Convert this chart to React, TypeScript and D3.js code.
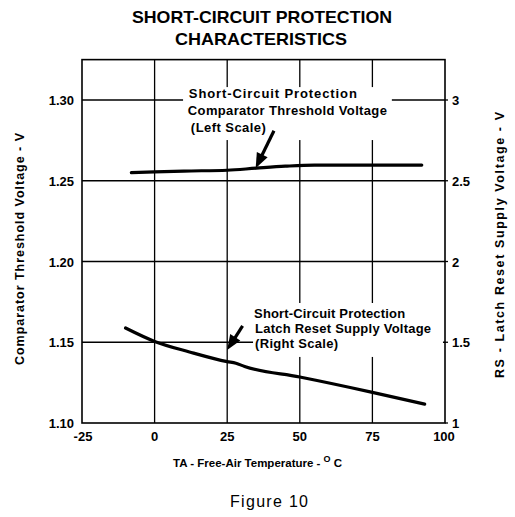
import React from 'react';
import * as d3 from 'd3';

const tempTicks = [-25, 0, 25, 50, 75, 100];
const leftTicks = [1.10, 1.15, 1.20, 1.25, 1.30];
const rightTicks = [1, 1.5, 2, 2.5, 3];
const thresholdTemp = [-8, 0, 10, 25, 35, 45, 55, 92];
const thresholdV = [1.255, 1.2555, 1.256, 1.2565, 1.2578, 1.259, 1.2597, 1.2597];
const resetTemp = [-10, 0, 12, 25, 28, 31, 50, 75, 93];
const resetV = [1.588, 1.505, 1.44, 1.38, 1.37, 1.35, 1.285, 1.19, 1.117];

const titleLines = ['SHORT-CIRCUIT PROTECTION', 'CHARACTERISTICS'];
const upperLabel = ['Short-Circuit Protection', 'Comparator Threshold Voltage', '(Left Scale)'];
const lowerLabel = ['Short-Circuit Protection', 'Latch Reset Supply Voltage', '(Right Scale)'];

const FONT = '"Liberation Sans", Arial, sans-serif';

function Arrow({ x1, y1, x2, y2 }: { x1: number; y1: number; x2: number; y2: number }) {
  const dx = x2 - x1, dy = y2 - y1;
  const len = Math.hypot(dx, dy);
  const ux = dx / len, uy = dy / len;
  const hl = 15, hw = 6;
  const bx = x2 - ux * hl, by = y2 - uy * hl;
  const px = -uy, py = ux;
  return (
    <g>
      <line x1={x1} y1={y1} x2={bx + ux * 2} y2={by + uy * 2} stroke="#000" strokeWidth={3.2} />
      <polygon points={`${x2},${y2} ${bx + px * hw},${by + py * hw} ${bx - px * hw},${by - py * hw}`} fill="#000" />
    </g>
  );
}

export default function App() {
  const x = d3.scaleLinear().domain([-25, 100]).range([82, 445]);
  const yL = d3.scaleLinear().domain([1.10, 1.30]).range([423, 100]);
  const yR = d3.scaleLinear().domain([1, 3]).range([423, 100]);
  const top = yL(1.325);
  const left = x(-25), right = x(100), bottom = yL(1.10);

  const upper = d3.line<number>().x((_, i) => x(thresholdTemp[i])).y((d) => yL(d)).curve(d3.curveMonotoneX)(thresholdV) || '';
  const lower = d3.line<number>().x((_, i) => x(resetTemp[i])).y((d) => yR(d)).curve(d3.curveMonotoneX)(resetV) || '';

  const fmtL = d3.format('.2f');
  const fmtR = (v: number) => String(v);

  return (
    <svg width={515} height={517} style={{ position: 'absolute', left: 0, top: 0, background: '#fff' }} fontFamily={FONT}>
      <rect x={0} y={0} width={515} height={517} fill="#fff" />
      {/* title */}
      <text x={262} y={23} textAnchor="middle" fontSize={17} fontWeight="bold" textLength={260} lengthAdjust="spacingAndGlyphs">{titleLines[0]}</text>
      <text x={261} y={45} textAnchor="middle" fontSize={17} fontWeight="bold" textLength={172} lengthAdjust="spacingAndGlyphs">{titleLines[1]}</text>

      {/* grid */}
      {tempTicks.slice(1, -1).map((t) => (
        <line key={'v' + t} x1={x(t)} x2={x(t)} y1={top} y2={bottom} stroke="#000" strokeWidth={1.3} />
      ))}
      {leftTicks.slice(1).map((t) => (
        <line key={'h' + t} x1={left} x2={right} y1={yL(t)} y2={yL(t)} stroke="#000" strokeWidth={1.3} />
      ))}

      {/* label backgrounds */}
      <rect x={x(9.8)} y={yL(1.308)} width={x(81.7) - x(9.8)} height={yL(1.2752) - yL(1.308)} fill="#fff" />
      <rect x={x(33.9)} y={yL(1.1743)} width={x(99.3) - x(33.9)} height={yL(1.1409) - yL(1.1743)} fill="#fff" />

      {/* frame */}
      <rect x={left} y={top} width={right - left} height={bottom - top} fill="none" stroke="#000" strokeWidth={1.6} />

      {/* curves */}
      <path d={upper} fill="none" stroke="#000" strokeWidth={3.2} strokeLinecap="round" />
      <path d={lower} fill="none" stroke="#000" strokeWidth={3.2} strokeLinecap="round" />

      {/* annotations */}
      {upperLabel.map((s, i) => (
        <text key={'u' + i} x={x(11.8) + (i === 1 ? -1 : i === 2 ? 2 : 0)} y={yL(1.3012) + i * 17} fontSize={13} fontWeight="bold"
          textLength={[168, 199, 75][i]} lengthAdjust="spacing">{s}</text>
      ))}
      <Arrow x1={x(41.1)} y1={yL(1.281)} x2={x(34.8)} y2={yL(1.2578)} />
      {lowerLabel.map((s, i) => (
        <text key={'l' + i} x={x(34.6) + (i === 0 ? -1 : 0)} y={yL(1.1653) + i * 15} fontSize={13} fontWeight="bold"
          textLength={[151, 176, 83][i]} lengthAdjust="spacing">{s}</text>
      ))}
      <Arrow x1={x(30.3)} y1={yL(1.1602)} x2={x(25.0)} y2={yL(1.1452)} />

      {/* left ticks */}
      {leftTicks.map((t) => (
        <text key={'lt' + t} x={left - 8} y={yL(t) + 5} textAnchor="end" fontSize={13} fontWeight="bold">{fmtL(t)}</text>
      ))}
      {/* right ticks */}
      {rightTicks.map((t) => (
        <g key={'rt' + t}>
          <line x1={right} x2={right + 3} y1={yR(t)} y2={yR(t)} stroke="#000" strokeWidth={1.3} />
          <text x={right + 7} y={yR(t) + 5} textAnchor="start" fontSize={13} fontWeight="bold">{fmtR(t)}</text>
        </g>
      ))}
      {/* bottom ticks */}
      {tempTicks.map((t) => (
        <text key={'bt' + t} x={x(t) + (t === -25 ? 1 : t === 100 ? -1 : 0)} y={bottom + 18} textAnchor="middle" fontSize={13} fontWeight="bold">{String(t)}</text>
      ))}

      {/* axis titles */}
      <text transform={`translate(24,${249}) rotate(-90)`} textAnchor="middle" fontSize={12.5} fontWeight="bold" textLength={232} lengthAdjust="spacing">Comparator Threshold Voltage - V</text>
      <text transform={`translate(504,${245}) rotate(-90)`} textAnchor="middle" fontSize={12.5} fontWeight="bold" textLength={266} lengthAdjust="spacing">RS - Latch Reset Supply Voltage - V</text>
      <text x={173} y={467} fontSize={11.5} fontWeight="bold">
        TA  - Free-Air Temperature - <tspan fontSize={9} dy={-5}>O</tspan><tspan dy={5}> C</tspan>
      </text>
      <text x={269} y={507} textAnchor="middle" fontSize={16} textLength={78} lengthAdjust="spacing">Figure 10</text>
    </svg>
  );
}
